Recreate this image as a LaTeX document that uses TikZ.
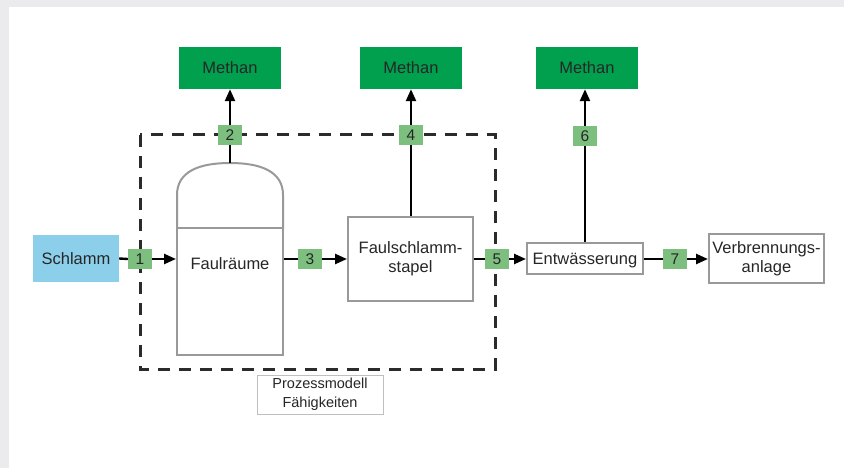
\documentclass[tikz,border=0pt]{standalone}
\usepackage{fontspec}
\setmainfont{Liberation Sans}
\usetikzlibrary{arrows.meta}
\definecolor{framegray}{HTML}{EBEBED}
\definecolor{methgreen}{HTML}{00A04E}
\definecolor{labgreen}{HTML}{7DBF7F}
\definecolor{sludgeblue}{HTML}{8CCFEA}
\definecolor{boxgray}{HTML}{999999}
\definecolor{dashgray}{HTML}{2B2B2B}
\tikzset{
  bigtext/.style={font=\fontsize{16.5}{19}\selectfont, text=black!85},
  methanbox/.style={fill=methgreen, draw=none, minimum width=102pt, minimum height=42pt, inner sep=0pt, bigtext},
  numbox/.style={fill=labgreen, draw=none, minimum width=24pt, minimum height=20pt, inner sep=0pt, font=\fontsize{15.5}{17}\selectfont, text=black!85},
  procbox/.style={draw=boxgray, line width=2pt, fill=white, inner sep=0pt, bigtext, align=center},
  flow/.style={line width=2.4pt, black},
  flowarrow/.style={flow, -{Triangle[length=12pt,width=10pt]}},
}
\begin{document}
\begin{tikzpicture}[x=1pt,y=-1pt]
\useasboundingbox (0,0) rectangle (844,468);
\fill[white] (0,0) rectangle (844,468);
\fill[framegray] (0,0) rectangle (9,468);
\fill[framegray] (0,0) rectangle (844,7);

% dashed process boundary
\draw[dashgray, line width=3pt, dash pattern=on 12pt off 9pt] (140,135) rectangle (495,369);

% Methan boxes
\node[methanbox] (m1) at (230,68) {Methan};
\node[methanbox] (m2) at (411,68) {Methan};
\node[methanbox] (m3) at (587,68) {Methan};

% Schlamm
\node[fill=sludgeblue, minimum width=86pt, minimum height=47pt, inner sep=0pt, bigtext] (schl) at (76,258.5) {Schlamm};

% Fermenter (Faulraeume)
\coordinate (dometop) at (230,163);
\draw[boxgray, line width=2pt, fill=white] (177,228) -- (177,195) .. controls (177,171) and (200,163) .. (dometop) .. controls (260,163) and (283,171) .. (283,195) -- (283,228) -- cycle;
\node[procbox, minimum width=106pt, minimum height=127pt] (ferm) at (230,291.5) {};
\node[bigtext] at (230,264) {Faulräume};

% Faulschlammstapel
\node[procbox, minimum width=125pt, minimum height=84pt] (stap) at (410.5,259) {Faulschlamm-\\stapel};

% Entwaesserung
\node[procbox, minimum width=116pt, minimum height=31pt, text depth=0pt] (entw) at (585,258.5) {Entwässerung};

% Verbrennungsanlage
\node[procbox, minimum width=115pt, minimum height=49pt] (verb) at (766.5,258.5) {Verbrennungs-\\anlage};

% Prozessmodell label
\node[draw=black!25, line width=1pt, fill=white, minimum width=126pt, minimum height=39pt, inner sep=0pt, align=center, font=\fontsize{14.5}{19}\selectfont, text=black!85] (pm) at (320,394.5) {Prozessmodell\\Fähigkeiten};

% number labels
\node[numbox] (n1) at (140,259) {1};
\node[numbox] (n2) at (230,135) {2};
\node[numbox] (n3) at (310,259) {3};
\node[numbox] (n4) at (411,135) {4};
\node[numbox] (n5) at (497,259) {5};
\node[numbox] (n6) at (585,136) {6};
\node[numbox] (n7) at (675,259) {7};

% flows
\draw[flow] (schl.east) -- (n1.west);
\draw[flowarrow] (n1.east) -- (ferm.west |- n1.east);
\draw[flow] (dometop) -- (n2.south);
\draw[flowarrow] (n2.north) -- (m1.south);
\draw[flow] (ferm.east |- n3.west) -- (n3.west);
\draw[flowarrow] (n3.east) -- (stap.west |- n3.east);
\draw[flow] (stap.north -| n4.south) -- (n4.south);
\draw[flowarrow] (n4.north) -- (m2.south -| n4.north);
\draw[flow] (stap.east |- n5.west) -- (n5.west);
\draw[flowarrow] (n5.east) -- (entw.west |- n5.east);
\draw[flow] (entw.north -| n6.south) -- (n6.south);
\draw[flowarrow] (n6.north) -- (m3.south -| n6.north);
\draw[flow] (entw.east |- n7.west) -- (n7.west);
\draw[flowarrow] (n7.east) -- (verb.west |- n7.east);
\end{tikzpicture}
\end{document}
